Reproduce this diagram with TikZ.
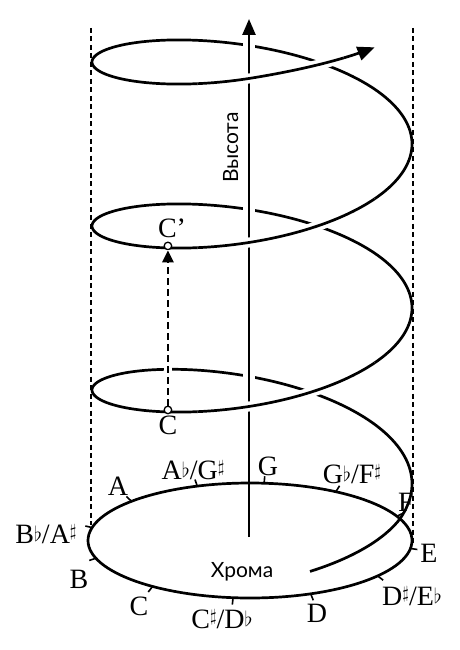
\documentclass[tikz,border=0pt]{standalone}
\usepackage{fontspec}
\setmainfont{Liberation Serif}
\newfontfamily\geosans{Lato}
\usetikzlibrary{arrows.meta}
\newcommand\myflat{\raisebox{2pt}{\fontsize{22}{22}\selectfont$\flat$}}
\newcommand\mysharp{\raisebox{6.5pt}{\fontsize{19}{19}\selectfont$\sharp$}}
\begin{document}
\begin{tikzpicture}[x=1pt,y=-1pt,
  declare function={hx(\t)=252+160*cos(\t);
    hy(\t)=472-164/360*\t-57*sin(\t)+15*min(1,(max(0,180-\t)/203)^2)+12*(max(0,\t-990)/49)^2;},
  curve/.style={line width=2.7pt},
  halo/.style={white,line width=10pt},
  axisline/.style={line width=2.5pt},
  guide/.style={line width=1.2pt,dash pattern=on 5pt off 3.5pt},
  tickmark/.style={line width=1.6pt},
  note/.style={font=\fontsize{28}{32}\selectfont,inner sep=0pt,anchor=base},
  sanslab/.style={font=\geosans\fontsize{21}{24}\selectfont,inner sep=0pt,anchor=base},
  dot/.style={circle,draw,fill=white,line width=1.3pt,minimum size=7.5pt,inner sep=0pt},
  dasharrow/.style={line width=2.8pt,dash pattern=on 7pt off 4pt,-{Triangle[length=12pt,width=11pt]}}
]
\useasboundingbox (0,0) rectangle (460,650);
\fill[white] (0,0) rectangle (460,650);

% guide lines
\coordinate (gLt) at (91,28);
\coordinate (gLb) at (91,525);
\coordinate (gRt) at (413,28);
\coordinate (gRb) at (413,543);
\draw[guide] (gLt) -- (gLb);
\draw[guide] (gRt) -- (gRb);

% helix
\draw[curve,-{Triangle[length=17pt,width=14pt]}] plot[domain=-68.75:1040,samples=500,smooth] ({hx(\x)},{hy(\x)});

% axis
\coordinate (axbot) at (249,537);
\coordinate (axtop) at (249,19);
\draw[white,line width=12pt] (249,530) -- (249,42);
\draw[axisline,-{Triangle[length=16pt,width=13pt]}] (axbot) -- (axtop);

% base ellipse and ticks
\draw[curve] (250,540.5) ellipse [x radius=162pt,y radius=57.5pt];
\foreach \ang in {85,58,25,-8,-38,-68,-96,-127,-162,-193,137,109}
  \draw[tickmark] ({250+162*cos(\ang)},{540.5-57.5*sin(\ang)}) -- ({250+169*cos(\ang)},{540.5-64.5*sin(\ang)});

% front pieces of the helix
\foreach \a/\b in {250/320,610/680,970/1025}{
  \draw[halo] plot[domain=\a:\b,samples=40,smooth] ({hx(\x)},{hy(\x)});
  \draw[curve] plot[domain=\a:\b,samples=40,smooth] ({hx(\x)},{hy(\x)});
}

% C and C'
\node[dot] (Cpt) at ({hx(238.3)},{hy(238.3)-2}) {};
\node[dot] (Cp) at ({hx(598.3)},{hy(598.3)-2}) {};
\draw[white,line width=8pt] (Cpt) -- (Cp);
\draw[dasharrow] (Cpt) -- (Cp);
\node[note] (lC0) at (168,434) {C};
\node[note] (lC1) at (172,237) {C’};

% axis labels
\node[sanslab] (chroma) at (242,577) {Хрома};
\node[sanslab,rotate=90] (height) at (238,147.5) {Высота};

% note labels
\node[note] (nA) at (118,495) {A};
\node[note] (nAb) at (193,479) {A\myflat/G\mysharp};
\node[note] (nG) at (268,475) {G};
\node[note] (nGb) at (352,483) {G\myflat/F\mysharp};
\node[note] (nF) at (406,511) {F};
\node[note] (nE) at (429,562) {E};
\node[note] (nDs) at (412,605) {D\mysharp/E\myflat};
\node[note] (nD) at (317,622) {D};
\node[note] (nCs) at (222,628) {C\mysharp/D\myflat};
\node[note] (nC) at (139,615) {C};
\node[note] (nB) at (79,588) {B};
\node[note] (nBb) at (46,543) {B\myflat/A\mysharp};
\end{tikzpicture}
\end{document}
